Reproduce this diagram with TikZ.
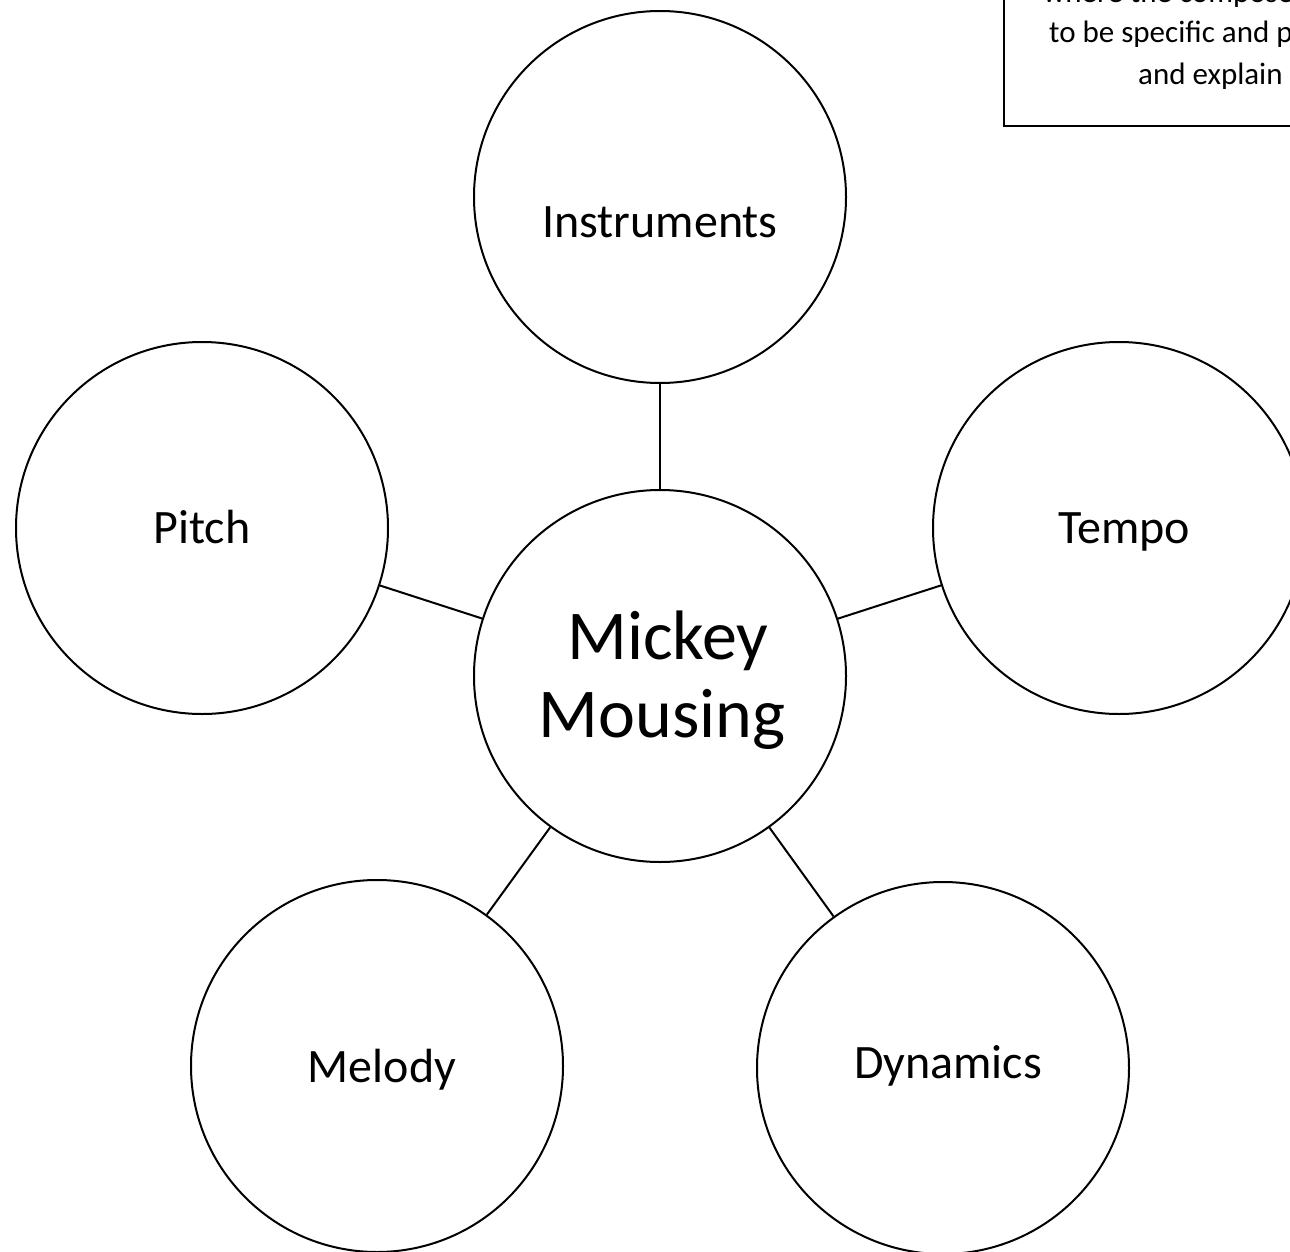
\documentclass[tikz,border=0pt]{standalone}
\usepackage{fontspec}
\setmainfont{Carlito}
\begin{document}
\begin{tikzpicture}[x=1pt,y=-1pt,
  bubble/.style={draw=black, line width=2pt, circle, fill=white, minimum size=372pt, inner sep=0pt},
  lbl/.style={anchor=base, inner sep=0pt, font=\fontsize{48}{58}\selectfont},
  notetxt/.style={anchor=base west, inner sep=0pt, font=\fontsize{31}{38}\selectfont},
  link/.style={draw=black, line width=2pt}]
\useasboundingbox (0,0) rectangle (1290,1252);
\clip (0,0) rectangle (1290,1252);
% note box (cut by the page edge)
\node[draw=black, line width=2pt, rectangle, minimum width=320pt, minimum height=150pt, anchor=south west, inner sep=0pt] (note) at (1003,127) {};
\node[notetxt] (n1) at (1043,3) {where the compose};
\node[notetxt] (n2) at (1049,42.7) {to be specific and p};
\node[notetxt] (n3) at (1138,85) {and explain};
% circles
\node[bubble] (inst) at (660,197) {};
\node[bubble] (pitch) at (202,528) {};
\node[bubble] (tempo) at (1119,528) {};
\node[bubble] (mel) at (377,1066) {};
\node[bubble] (dyn) at (943,1068) {};
\node[bubble] (mm) at (660,676) {};
% connectors
\draw[link] (mm) -- (inst);
\draw[link] (mm) -- (pitch);
\draw[link] (mm) -- (tempo);
\draw[link] (mm) -- (mel);
\draw[link] (mm) -- (dyn);
% labels
\node[lbl] (tinst) at (660,237) {Instruments};
\node[lbl] (tpitch) at (202,543) {Pitch};
\node[lbl] (ttempo) at (1124,543) {Tempo};
\node[lbl] (tmel) at (382,1082) {Melody};
\node[lbl] (tdyn) at (948,1078) {Dynamics};
\node[lbl, font=\fontsize{70}{78}\selectfont] (tmm1) at (668,659) {Mickey};
\node[lbl, font=\fontsize{70}{78}\selectfont] (tmm2) at (662,737) {Mousing};
\end{tikzpicture}
\end{document}
